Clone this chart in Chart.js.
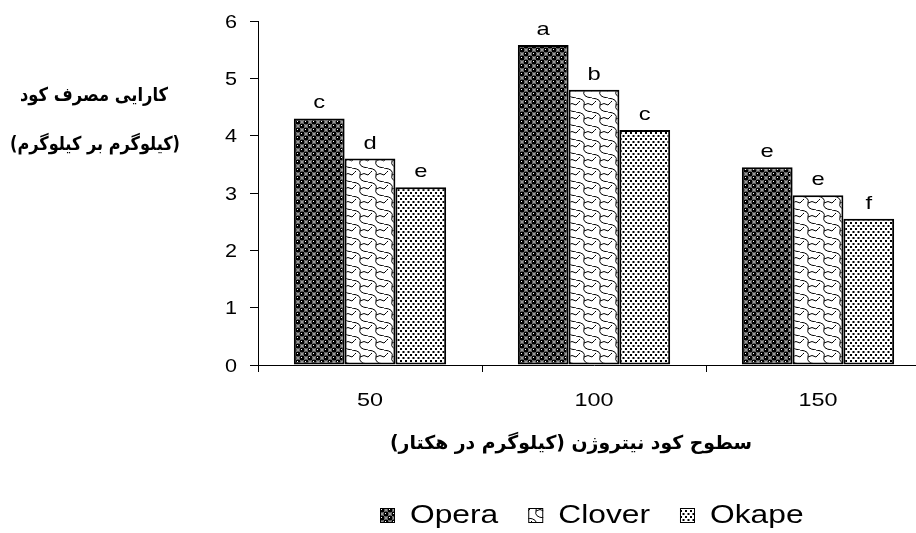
<!DOCTYPE html>
<html>
<head>
<meta charset="utf-8">
<script src="https://cdn.jsdelivr.net/npm/chart.js@4.4.1/dist/chart.umd.min.js"></script>
<style>
  html, body { margin: 0; padding: 0; overflow: hidden; background: #fff; }
  canvas { display: block; }
</style>
</head>
<body>
<canvas id="myChart" width="940" height="533"></canvas>
<script>
// data
const categories = ["50", "100", "150"];
const operaValues = [4.3, 5.58, 3.45];
const cloverValues = [3.6, 4.8, 2.96];
const okapeValues = [3.1, 4.1, 2.55];
const operaLetters = ["c", "a", "e"];
const cloverLetters = ["d", "b", "e"];
const okapeLetters = ["e", "c", "f"];
const seriesNames = ["Opera", "Clover", "Okape"];

const yTitle = ["کارایی مصرف کود", "(کیلوگرم بر کیلوگرم)"];
const xTitle = "سطوح کود نیتروژن (کیلوگرم در هکتار)";

const SANS = "'Liberation Sans', Arial, sans-serif";
const ARABIC = "'DejaVu Sans', sans-serif";
const STRETCH = 1.3; // the original text is drawn wide

function makeTile(w, h, draw) {
  const c = document.createElement("canvas");
  c.width = w;
  c.height = h;
  const g = c.getContext("2d");
  g.fillStyle = "#fff";
  g.fillRect(0, 0, w, h);
  draw(g);
  return document.createElement("canvas").getContext("2d").createPattern(c, "repeat");
}

// spheres
const operaFill = makeTile(8, 8, (g) => {
  g.fillStyle = "#999";
  g.fillRect(5, 1, 2, 2);
  g.fillRect(1, 5, 2, 2);
  g.fillStyle = "#000";
  [[2, 2], [6, 6], [-2, 6], [6, -2], [10, 6], [6, 10], [2, 10], [10, 2]].forEach(([x, y]) => {
    g.beginPath();
    g.arc(x, y, 2.7, 0, Math.PI * 2);
    g.fill();
  });
  g.fillStyle = "#fff";
  g.fillRect(1, 1, 1, 1);
  g.fillRect(5, 5, 1, 1);
});

// shingles
const cloverFill = makeTile(16, 14, (g) => {
  g.strokeStyle = "#000";
  g.lineWidth = 1;
  g.beginPath();
  g.moveTo(0, 0);
  g.quadraticCurveTo(10, 1, 8, 7);
  g.quadraticCurveTo(6, 13, 16, 14);
  g.moveTo(8, 7);
  g.quadraticCurveTo(12, 4, 16, 7);
  g.moveTo(0, 7);
  g.quadraticCurveTo(3, 4, 4, 3);
  g.stroke();
});

// dots
const okapeFill = makeTile(5, 6, (g) => {
  g.fillStyle = "#000";
  g.fillRect(0, 0, 2, 2);
  g.fillRect(2.5, 3, 2, 2);
});

const fills = [operaFill, cloverFill, okapeFill];
const letters = [operaLetters, cloverLetters, okapeLetters];
const values = [operaValues, cloverValues, okapeValues];

function wideText(ctx, text, x, y, font, sx, align) {
  ctx.save();
  ctx.translate(x, y);
  ctx.scale(sx, 1);
  ctx.font = font;
  ctx.textAlign = align;
  ctx.textBaseline = "alphabetic";
  ctx.fillText(text, 0, 0);
  ctx.restore();
}

function fitText(ctx, text, cx, cy, font, width) {
  ctx.save();
  ctx.font = font;
  const sx = width / ctx.measureText(text).width;
  ctx.translate(cx, cy);
  ctx.scale(sx, 1);
  ctx.textAlign = "center";
  ctx.textBaseline = "middle";
  ctx.fillText(text, 0, 0);
  ctx.restore();
}

const extraText = {
  id: "extraText",
  afterDatasetsDraw(chart) {
    const ctx = chart.ctx;
    ctx.fillStyle = "#000";
    chart.data.datasets.forEach((ds, i) => {
      chart.getDatasetMeta(i).data.forEach((bar, j) => {
        wideText(ctx, letters[i][j], bar.x, bar.y - 10, "19px " + SANS, 1.25, "center");
      });
    });
  },
  afterDraw(chart) {
    const ctx = chart.ctx;
    ctx.save();
    ctx.fillStyle = "#000";

    // tick labels
    const ys = chart.scales.y;
    ys.ticks.forEach((t, i) => {
      wideText(ctx, String(t.value), ys.right - 21, ys.getPixelForTick(i) + 6.5, "18px " + SANS, 1.2, "right");
    });
    const xs = chart.scales.x;
    chart.data.labels.forEach((lab, i) => {
      wideText(ctx, lab, xs.getPixelForValue(i), xs.top + 41, "18px " + SANS, STRETCH, "center");
    });

    // axis titles
    fitText(ctx, yTitle[0], 94, 96, "bold 19px " + ARABIC, 148);
    fitText(ctx, yTitle[1], 95, 145, "bold 19px " + ARABIC, 170);
    fitText(ctx, xTitle, 571, 444, "bold 19px " + ARABIC, 362);

    // legend
    let x = 380;
    const base = 523;
    chart.data.datasets.forEach((ds, i) => {
      ctx.fillStyle = fills[i];
      ctx.fillRect(x, base - 15, 15, 15);
      ctx.strokeStyle = "#000";
      ctx.lineWidth = 1;
      ctx.strokeRect(x + 0.5, base - 14.5, 14, 14);
      ctx.fillStyle = "#000";
      wideText(ctx, ds.label, x + 30, base, "25px " + SANS, 1.27, "left");
      ctx.font = "25px " + SANS;
      x += 30 + ctx.measureText(ds.label).width * 1.27 + 30;
    });
    ctx.restore();
  },
};

new Chart(document.getElementById("myChart"), {
  type: "bar",
  data: {
    labels: categories,
    datasets: seriesNames.map((name, i) => ({
      label: name,
      data: values[i],
      backgroundColor: fills[i],
      borderColor: "#000",
      borderWidth: 2,
      borderSkipped: false,
      barPercentage: 1,
      categoryPercentage: 0.68,
    })),
  },
  options: {
    responsive: false,
    animation: false,
    layout: { padding: { top: 21, right: 10, bottom: 0, left: 0 } },
    plugins: {
      legend: { display: false },
      tooltip: { enabled: false },
    },
    scales: {
      x: {
        afterFit: (scale) => { scale.height = 168; },
        grid: { drawOnChartArea: false, tickLength: 7, color: "#000" },
        border: { color: "#000" },
        ticks: { display: false },
      },
      y: {
        min: 0,
        max: 6,
        afterFit: (scale) => { scale.width = 258; },
        grid: { drawOnChartArea: false, tickLength: 8, color: "#000" },
        border: { color: "#000" },
        ticks: { display: false, stepSize: 1 },
      },
    },
  },
  plugins: [extraText],
});
</script>
</body>
</html>
